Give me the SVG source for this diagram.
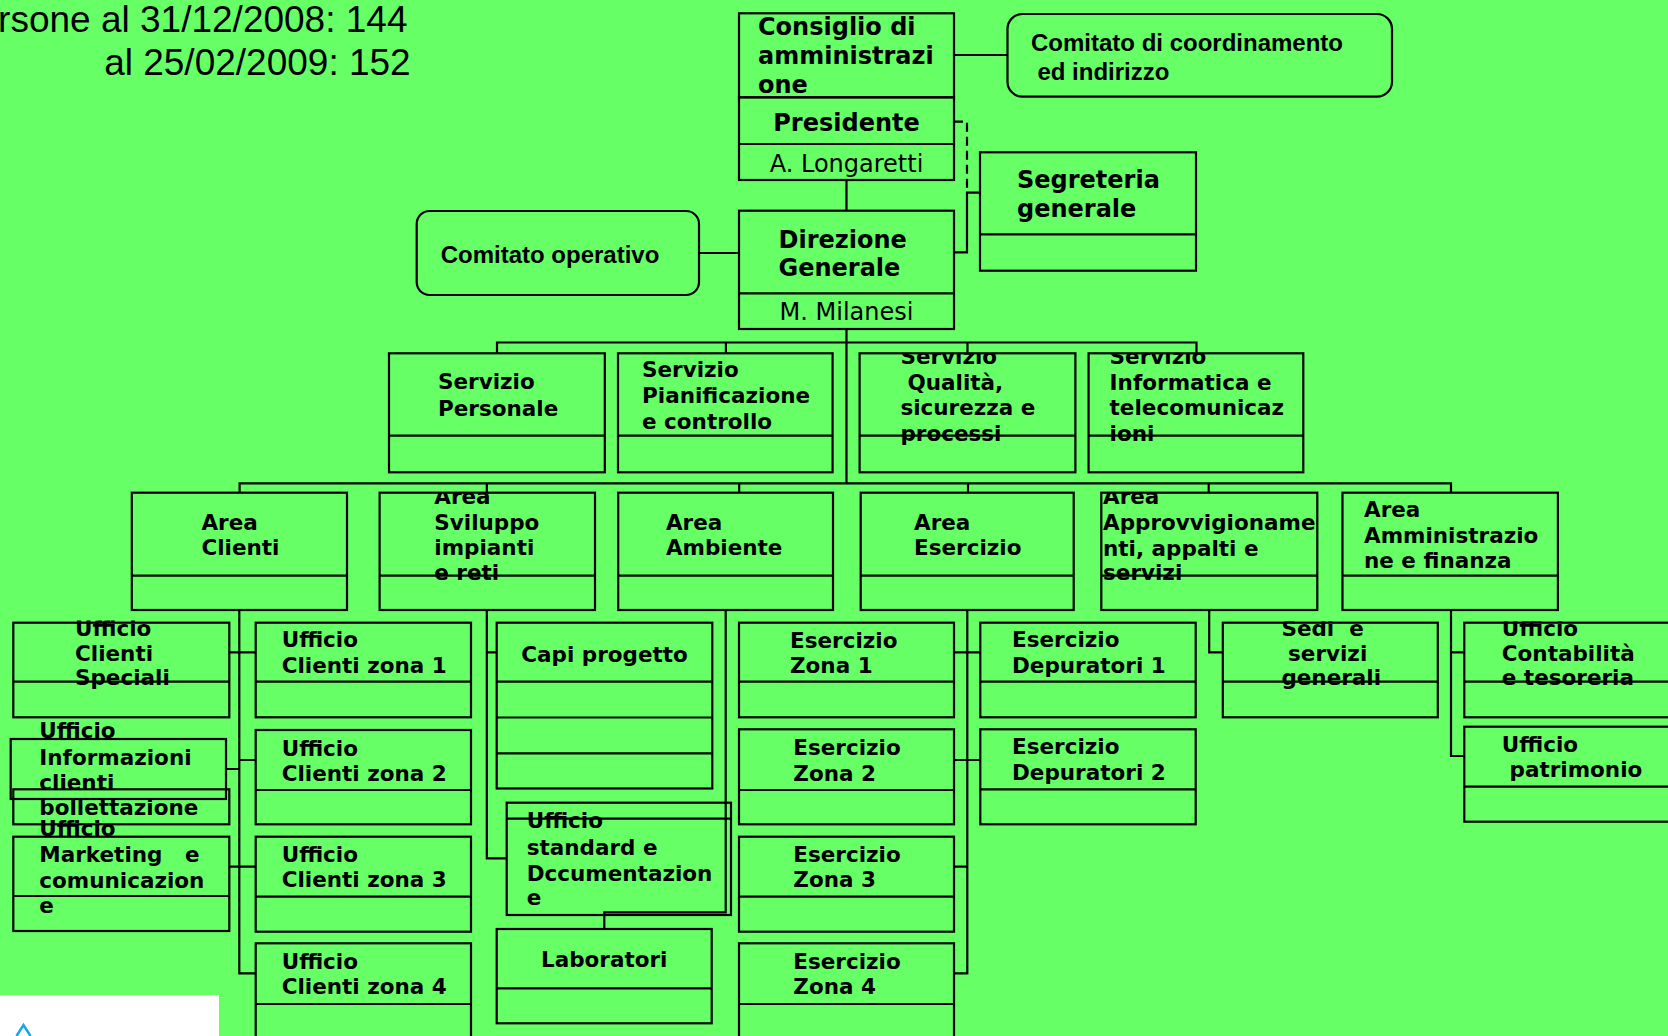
<svg xmlns="http://www.w3.org/2000/svg" width="1668" height="1036" viewBox="0 0 1668 1036">
<style>
.bx{fill:none;stroke:#000;stroke-width:2.2}
.cn{fill:none;stroke:#000;stroke-width:2.2}
.ds{fill:none;stroke:#000;stroke-width:2.2;stroke-dasharray:9 5}
.t{font-family:"DejaVu Sans",Verdana,sans-serif;font-weight:bold;font-size:21.5px;fill:#000}
.big{font-size:24px}
.nr{font-weight:normal}
.ar{font-family:"Liberation Sans",Arial,sans-serif;font-weight:bold;font-size:24px;fill:#000}
.hd{font-family:"Liberation Sans",Arial,sans-serif;font-size:37px;fill:#000}
.mid{text-anchor:middle}
</style>
<defs>
<clipPath id="cQ"><rect x="850" y="353.3" width="240" height="200"/></clipPath>
<clipPath id="cI"><rect x="1080" y="353.3" width="240" height="200"/></clipPath>
<clipPath id="cSv"><rect x="370" y="492.7" width="240" height="200"/></clipPath>
<clipPath id="cAp"><rect x="1090" y="492.7" width="240" height="200"/></clipPath>
<clipPath id="cSp"><rect x="0" y="620.5" width="240" height="200"/></clipPath>
<clipPath id="cSe"><rect x="1215" y="621.5" width="240" height="200"/></clipPath>
<clipPath id="cCo"><rect x="1460" y="621.5" width="240" height="200"/></clipPath>
</defs>
<rect x="0" y="0" width="1668" height="1036" fill="#66FF66"/>

<g id="header">
<text class="hd" x="407.5" y="31.7" text-anchor="end">rsone al 31/12/2008: 144</text>
<text class="hd" x="410.7" y="75" text-anchor="end">al 25/02/2009: 152</text>
</g>

<g id="connectors">
<path class="cn" d="M954,55H1007.5"/>
<path class="cn" d="M846.5,180V210.7"/>
<path class="ds" d="M954,121.7H967V192.7"/>
<path class="cn" d="M954,252.3H967V192.7H980"/>
<path class="cn" d="M699,253H739"/>
<path class="cn" d="M846.5,329V483.3"/>
<path class="cn" d="M497,353.3V342.5H1196.5V353.3M725.9,342.5V353.3M967.5,342.5V353.3"/>
<path class="cn" d="M239.6,492.7V483.3H1451V492.7M486.8,483.3V492.7M739.2,483.3V492.7M968,483.3V492.7M1208.7,483.3V492.7"/>
<path class="cn" d="M239.3,610V973.3H255.7M229.3,652.3H255.7M226,769H239.3M239.3,760H255.7M229.3,866.7H255.7"/>
<path class="cn" d="M486.8,610V858.3H506.7M486.8,652.3H496.7"/>
<path class="cn" d="M725.7,610V912.3H604.3V929"/>
<path class="cn" d="M967.3,610V973.3H954M954,652.3H980.3M954,760H980.3M954,866.7H967.3"/>
<path class="cn" d="M1209.2,610V652.3H1222.8"/>
<path class="cn" d="M1451,610V756H1464.3M1451,652.3H1464.3"/>
</g>

<g id="consiglio">
<rect class="bx" x="739" y="13.3" width="215" height="84"/>
<text class="t big" x="758" y="35">Consiglio di</text>
<text class="t big" x="758" y="64">amministrazi</text>
<text class="t big" x="758" y="93">one</text>
</g>
<g id="presidente">
<rect class="bx" x="739" y="97.3" width="215" height="82.7"/>
<line class="bx" x1="739" y1="144" x2="954" y2="144"/>
<text class="t big mid" x="846.5" y="131">Presidente</text>
<text class="t big nr mid" x="846.5" y="171.5">A. Longaretti</text>
</g>
<g id="comitato-coordinamento">
<rect class="bx" x="1007.5" y="14" width="384.5" height="82.7" rx="15"/>
<text class="ar" x="1031" y="51">Comitato di coordinamento</text>
<text class="ar" x="1037.4" y="80">ed indirizzo</text>
</g>
<g id="direzione">
<rect class="bx" x="739" y="210.7" width="215" height="118.3"/>
<line class="bx" x1="739" y1="293.3" x2="954" y2="293.3"/>
<text class="t big" x="778.5" y="248">Direzione</text>
<text class="t big" x="778.5" y="276">Generale</text>
<text class="t big nr mid" x="846.5" y="320">M. Milanesi</text>
</g>
<g id="segreteria">
<rect class="bx" x="980" y="152.3" width="216" height="118.4"/>
<line class="bx" x1="980" y1="234.3" x2="1196" y2="234.3"/>
<text class="t big" x="1017" y="188">Segreteria</text>
<text class="t big" x="1017" y="216.7">generale</text>
</g>
<g id="comitato-operativo">
<rect class="bx" x="416.7" y="211" width="282.3" height="84" rx="13"/>
<text class="ar" x="440.7" y="263.3">Comitato operativo</text>
</g>

<g id="servizio-personale">
<rect class="bx" x="389" y="353.3" width="215.8" height="119"/>
<line class="bx" x1="389" y1="435.7" x2="604.8" y2="435.7"/>
<text class="t" x="438" y="389.3">Servizio</text>
<text class="t" x="438" y="416">Personale</text>
</g>
<g id="servizio-pianificazione">
<rect class="bx" x="618" y="353.3" width="214.6" height="119"/>
<line class="bx" x1="618" y1="435.7" x2="832.6" y2="435.7"/>
<text class="t" x="642" y="376.7">Servizio</text>
<text class="t" x="642" y="403.3">Pianificazione</text>
<text class="t" x="642" y="429.3">e controllo</text>
</g>
<g id="servizio-qualita">
<g clip-path="url(#cQ)">
<text class="t" x="900.4" y="364">Servizio</text>
<text class="t" x="907.5" y="389.5">Qualità,</text>
<text class="t" x="900.4" y="415">sicurezza e</text>
<text class="t" x="900.4" y="440.5">processi</text>
</g>
<rect class="bx" x="859.6" y="353.3" width="215.8" height="119"/>
<line class="bx" x1="859.6" y1="435.7" x2="1075.4" y2="435.7"/>
</g>
<g id="servizio-informatica">
<g clip-path="url(#cI)">
<text class="t" x="1109.6" y="364">Servizio</text>
<text class="t" x="1109.6" y="389.5">Informatica e</text>
<text class="t" x="1109.6" y="415">telecomunicaz</text>
<text class="t" x="1109.6" y="440.5">ioni</text>
</g>
<rect class="bx" x="1088.6" y="353.3" width="214.7" height="119"/>
<line class="bx" x1="1088.6" y1="435.7" x2="1303.3" y2="435.7"/>
</g>

<g id="area-clienti">
<rect class="bx" x="131.8" y="492.7" width="215.2" height="117.3"/>
<line class="bx" x1="131.8" y1="575.7" x2="347" y2="575.7"/>
<text class="t" x="201.4" y="530">Area</text>
<text class="t" x="201.4" y="555">Clienti</text>
</g>
<g id="area-sviluppo">
<g clip-path="url(#cSv)">
<text class="t" x="434.3" y="504">Area</text>
<text class="t" x="434.3" y="530">Sviluppo</text>
<text class="t" x="434.3" y="555">impianti</text>
<text class="t" x="434.3" y="580">e reti</text>
</g>
<rect class="bx" x="379.6" y="492.7" width="215.4" height="117.3"/>
<line class="bx" x1="379.6" y1="575.7" x2="595" y2="575.7"/>
</g>
<g id="area-ambiente">
<rect class="bx" x="618.2" y="492.7" width="214.8" height="117.3"/>
<line class="bx" x1="618.2" y1="575.7" x2="833" y2="575.7"/>
<text class="t" x="665.9" y="530">Area</text>
<text class="t" x="665.9" y="555">Ambiente</text>
</g>
<g id="area-esercizio">
<rect class="bx" x="860.7" y="492.7" width="213" height="117.3"/>
<line class="bx" x1="860.7" y1="575.7" x2="1073.7" y2="575.7"/>
<text class="t" x="914" y="530">Area</text>
<text class="t" x="914" y="555">Esercizio</text>
</g>
<g id="area-approvvigionamenti">
<g clip-path="url(#cAp)">
<text class="t" x="1103" y="504">Area</text>
<text class="t" x="1103" y="530">Approvvigioname</text>
<text class="t" x="1103" y="555.5">nti, appalti e</text>
<text class="t" x="1103" y="580">servizi</text>
</g>
<rect class="bx" x="1101.3" y="492.7" width="216" height="117.3"/>
<line class="bx" x1="1101.3" y1="575.7" x2="1317.3" y2="575.7"/>
</g>
<g id="area-amministrazione">
<rect class="bx" x="1342.5" y="492.7" width="215.4" height="117.3"/>
<line class="bx" x1="1342.5" y1="575.7" x2="1557.9" y2="575.7"/>
<text class="t" x="1364" y="516.7">Area</text>
<text class="t" x="1364" y="543">Amministrazio</text>
<text class="t" x="1364" y="568">ne e finanza</text>
</g>

<g id="ufficio-clienti-speciali">
<g clip-path="url(#cSp)">
<text class="t" x="75" y="636">Ufficio</text>
<text class="t" x="75" y="661">Clienti</text>
<text class="t" x="75" y="685">Speciali</text>
</g>
<rect class="bx" x="13.3" y="622.7" width="216" height="94.6"/>
<line class="bx" x1="13.3" y1="681.7" x2="229.3" y2="681.7"/>
</g>
<g id="ufficio-informazioni">
<rect class="bx" x="10.7" y="739" width="215.3" height="60"/>
<rect class="bx" x="13.3" y="789.3" width="216" height="35"/>
<text class="t" x="39.3" y="738.3">Ufficio</text>
<text class="t" x="39.3" y="765">Informazioni</text>
<text class="t" x="39.3" y="790">clienti</text>
<text class="t" x="39.3" y="815">bollettazione</text>
</g>
<g id="ufficio-marketing">
<rect class="bx" x="13.3" y="836.7" width="216" height="94.3"/>
<line class="bx" x1="13.3" y1="896" x2="229.3" y2="896"/>
<text class="t" x="39.3" y="836">Ufficio</text>
<text class="t" x="39.3" y="861.7" xml:space="preserve">Marketing   e</text>
<text class="t" x="39.3" y="887.7">comunicazion</text>
<text class="t" x="39.3" y="912.7">e</text>
</g>

<g id="ufficio-clienti-zona-1">
<rect class="bx" x="255.7" y="622.7" width="215.3" height="94.6"/>
<line class="bx" x1="255.7" y1="681.7" x2="471" y2="681.7"/>
<text class="t" x="281.7" y="647.3">Ufficio</text>
<text class="t" x="281.7" y="673.3">Clienti zona 1</text>
</g>
<g id="ufficio-clienti-zona-2">
<rect class="bx" x="255.7" y="730" width="215.3" height="94.3"/>
<line class="bx" x1="255.7" y1="790" x2="471" y2="790"/>
<text class="t" x="281.7" y="755.7">Ufficio</text>
<text class="t" x="281.7" y="780.7">Clienti zona 2</text>
</g>
<g id="ufficio-clienti-zona-3">
<rect class="bx" x="255.7" y="836.7" width="215.3" height="95"/>
<line class="bx" x1="255.7" y1="896.7" x2="471" y2="896.7"/>
<text class="t" x="281.7" y="861.7">Ufficio</text>
<text class="t" x="281.7" y="887.3">Clienti zona 3</text>
</g>
<g id="ufficio-clienti-zona-4">
<rect class="bx" x="255.7" y="943.3" width="215.3" height="95"/>
<line class="bx" x1="255.7" y1="1004" x2="471" y2="1004"/>
<text class="t" x="281.7" y="969.3">Ufficio</text>
<text class="t" x="281.7" y="994.3">Clienti zona 4</text>
</g>

<g id="capi-progetto">
<rect class="bx" x="496.7" y="622.7" width="215.6" height="165.8"/>
<line class="bx" x1="496.7" y1="681.7" x2="712.3" y2="681.7"/>
<line class="bx" x1="496.7" y1="717.5" x2="712.3" y2="717.5"/>
<line class="bx" x1="496.7" y1="753.3" x2="712.3" y2="753.3"/>
<text class="t mid" x="604.5" y="661.7">Capi progetto</text>
</g>
<g id="ufficio-standard">
<rect class="bx" x="506.7" y="802.7" width="224.3" height="112.3"/>
<line class="bx" x1="506.7" y1="818.7" x2="731" y2="818.7"/>
<text class="t" x="526.7" y="828.3">Ufficio</text>
<text class="t" x="526.7" y="855">standard e</text>
<text class="t" x="526.7" y="880.7">Dccumentazion</text>
<text class="t" x="526.7" y="905">e</text>
</g>
<g id="laboratori">
<rect class="bx" x="496.7" y="929" width="215" height="94.3"/>
<line class="bx" x1="496.7" y1="988.3" x2="711.7" y2="988.3"/>
<text class="t mid" x="604.2" y="966.7">Laboratori</text>
</g>

<g id="esercizio-zona-1">
<rect class="bx" x="739" y="622.7" width="215" height="94.6"/>
<line class="bx" x1="739" y1="681.7" x2="954" y2="681.7"/>
<text class="t" x="790" y="648.3">Esercizio</text>
<text class="t" x="790" y="673.3">Zona 1</text>
</g>
<g id="esercizio-zona-2">
<rect class="bx" x="739" y="729.3" width="215" height="95"/>
<line class="bx" x1="739" y1="790" x2="954" y2="790"/>
<text class="t" x="793.3" y="755">Esercizio</text>
<text class="t" x="793.3" y="780.7">Zona 2</text>
</g>
<g id="esercizio-zona-3">
<rect class="bx" x="739" y="836.7" width="215" height="95"/>
<line class="bx" x1="739" y1="896.7" x2="954" y2="896.7"/>
<text class="t" x="793.3" y="861.7">Esercizio</text>
<text class="t" x="793.3" y="887.3">Zona 3</text>
</g>
<g id="esercizio-zona-4">
<rect class="bx" x="739" y="943.3" width="215" height="95"/>
<line class="bx" x1="739" y1="1004" x2="954" y2="1004"/>
<text class="t" x="793.3" y="969.3">Esercizio</text>
<text class="t" x="793.3" y="994.3">Zona 4</text>
</g>

<g id="esercizio-depuratori-1">
<rect class="bx" x="980.3" y="622.7" width="215.4" height="94.6"/>
<line class="bx" x1="980.3" y1="681.7" x2="1195.7" y2="681.7"/>
<text class="t" x="1012" y="647.3">Esercizio</text>
<text class="t" x="1012" y="673.3">Depuratori 1</text>
</g>
<g id="esercizio-depuratori-2">
<rect class="bx" x="980.3" y="729.3" width="215.4" height="95"/>
<line class="bx" x1="980.3" y1="789.3" x2="1195.7" y2="789.3"/>
<text class="t" x="1012" y="754">Esercizio</text>
<text class="t" x="1012" y="780">Depuratori 2</text>
</g>

<g id="sedi-servizi-generali">
<g clip-path="url(#cSe)">
<text class="t" x="1281.4" y="636" xml:space="preserve">Sedi  e</text>
<text class="t" x="1288" y="661">servizi</text>
<text class="t" x="1281.4" y="685">generali</text>
</g>
<rect class="bx" x="1222.8" y="622.7" width="215" height="94.6"/>
<line class="bx" x1="1222.8" y1="681.7" x2="1437.8" y2="681.7"/>
</g>

<g id="ufficio-contabilita">
<g clip-path="url(#cCo)">
<text class="t" x="1501.8" y="636">Ufficio</text>
<text class="t" x="1501.8" y="661">Contabilità</text>
<text class="t" x="1501.8" y="685">e tesoreria</text>
</g>
<rect class="bx" x="1464.3" y="622.7" width="216" height="94.6"/>
<line class="bx" x1="1464.3" y1="681.7" x2="1680" y2="681.7"/>
</g>
<g id="ufficio-patrimonio">
<rect class="bx" x="1464.3" y="726.7" width="216" height="95"/>
<line class="bx" x1="1464.3" y1="786.7" x2="1680" y2="786.7"/>
<text class="t" x="1501.8" y="751.7">Ufficio</text>
<text class="t" x="1509.5" y="776.7">patrimonio</text>
</g>

<g id="logo-fragment">
<rect x="0" y="995" width="219" height="41" fill="#ffffff"/>
<polyline points="16.5,1036 23.5,1025 30.5,1036" fill="none" stroke="#1aa3e8" stroke-width="2.5"/>
</g>
</svg>
